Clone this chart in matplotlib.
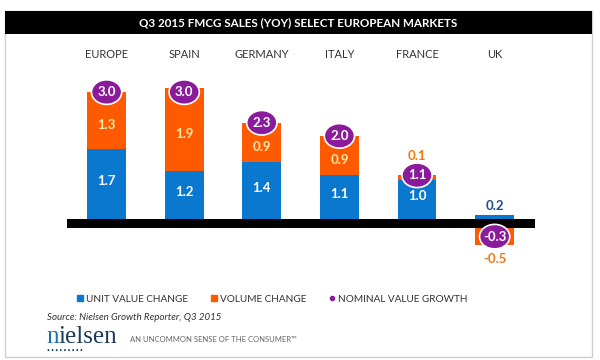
import matplotlib
matplotlib.use("Agg")
import matplotlib.pyplot as plt
from matplotlib.patches import Ellipse, Rectangle
from matplotlib.lines import Line2D

plt.rcParams['font.family'] = ['Lato', 'DejaVu Sans']

# data
markets = ['EUROPE', 'SPAIN', 'GERMANY', 'ITALY', 'FRANCE', 'UK']
unit_value = [1.7, 1.2, 1.4, 1.1, 1.0, 0.2]
volume = [1.3, 1.9, 0.9, 0.9, 0.1, -0.5]
nominal = [3.0, 3.0, 2.3, 2.0, 1.1, -0.3]

BLUE = '#0B78D0'
ORANGE = '#FF5A00'
PURPLE = '#8A1B9A'
CREAM = '#FFE8A8'

W, H = 600, 360
fig = plt.figure(figsize=(6, 3.6), dpi=100)

# frame and title band
fig.patches.append(Rectangle((5 / W, 1 - 357 / H), 587 / W, 346 / H, transform=fig.transFigure,
                             facecolor='none', edgecolor='#d0d0d0', lw=1.0, zorder=0))
fig.patches.append(Rectangle((5 / W, 1 - 34 / H), 587 / W, 23 / H, transform=fig.transFigure,
                             facecolor='black', edgecolor='none', zorder=1))
fig.text(298 / W, 1 - 22.5 / H, 'Q3 2015 FMCG SALES (YOY) SELECT EUROPEAN MARKETS',
         color='white', fontsize=8.4, fontweight='bold', ha='center', va='center')

# axes: x from 67px to 535px, y from 60px to 270px
ax = fig.add_axes([67 / W, 1 - 270 / H, 468 / W, 210 / H])
ax.set_xlim(-0.51, 5.52)
ax.set_ylim(-1.062, 3.733)
ax.axis('off')

x = list(range(len(markets)))
bw = 0.5
ax.bar(x, unit_value, width=bw, color=BLUE, zorder=2)
vol_bottom = [u if v >= 0 else 0 for u, v in zip(unit_value, volume)]
ax.bar(x, volume, width=bw, bottom=vol_bottom, color=ORANGE, zorder=2)

# baseline
ax.axhline(0, color='black', lw=6.5, zorder=3)

for i in x:
    u, v, n = unit_value[i], volume[i], nominal[i]
    # nominal circle
    ax.add_patch(Ellipse((i, n), 0.39, 0.56, facecolor=PURPLE, edgecolor='white', lw=1.2, zorder=4))
    ax.text(i, n, f'{n:.1f}', color='white', fontsize=9.5, fontweight='bold',
            ha='center', va='center', zorder=5)
    if u >= 0.5:
        ax.text(i, u / 2 + 0.12, f'{u:.1f}', color='white', fontsize=9.5, fontweight='bold',
                ha='center', va='center', zorder=5)
    else:
        ax.text(i, u + 0.2, f'{u:.1f}', color='#1F4E8C', fontsize=9.5, fontweight='bold',
                ha='center', va='center', zorder=5)
    if v >= 0.5:
        ax.text(i, u + v / 2 - 0.1, f'{v:.1f}', color=CREAM, fontsize=9.5, fontweight='bold',
                ha='center', va='center', zorder=5)
    elif v >= 0:
        ax.text(i, u + v + 0.45, f'{v:.1f}', color='#F07A10', fontsize=9.5, fontweight='bold',
                ha='center', va='center', zorder=5)
    else:
        ax.text(i, v - 0.3, f'{v:.1f}', color='#F07A10', fontsize=9.5, fontweight='bold',
                ha='center', va='center', zorder=5)
    ax.text(i, 3.85, markets[i], color='#333333', fontsize=8, ha='center', va='center')

# legend
handles = [Line2D([], [], marker='s', color=BLUE, ls='none', markersize=5),
           Line2D([], [], marker='s', color=ORANGE, ls='none', markersize=5),
           Line2D([], [], marker='o', color=PURPLE, ls='none', markersize=3)]
labels = ['UNIT VALUE CHANGE', 'VOLUME CHANGE', 'NOMINAL VALUE GROWTH']
fig.legend(handles, labels, loc='center left', bbox_to_anchor=(77 / W, 1 - 299 / H), ncol=3,
           frameon=False, fontsize=7.2, handlelength=0.6, handletextpad=0.3, columnspacing=2.3,
           labelcolor='#333333', borderaxespad=0, borderpad=0)

fig.text(47 / W, 1 - 318 / H, 'Source: Nielsen Growth Reporter, Q3 2015', fontsize=7,
         style='italic', color='#333333', va='center')

# logo
n_txt = fig.text(46 / W, 1 - 343 / H, 'n', family='Liberation Serif', fontsize=18,
                 color='#1F6FB5', va='baseline')
ax.annotate('ielsen', xy=(1, 0), xycoords=n_txt, family='Liberation Serif', fontsize=18,
            color='#1B3A5C', va='bottom', ha='left', annotation_clip=False)
fig.text(47 / W, 1 - 350 / H, '\u2022 ' * 9, fontsize=3.5, color='#1B3A5C', va='center')
fig.text(130 / W, 1 - 339 / H, 'AN UNCOMMON SENSE OF THE CONSUMER\u2122', fontsize=5.5,
         color='#666666', va='center')

fig.savefig('out.png', dpi=100)
